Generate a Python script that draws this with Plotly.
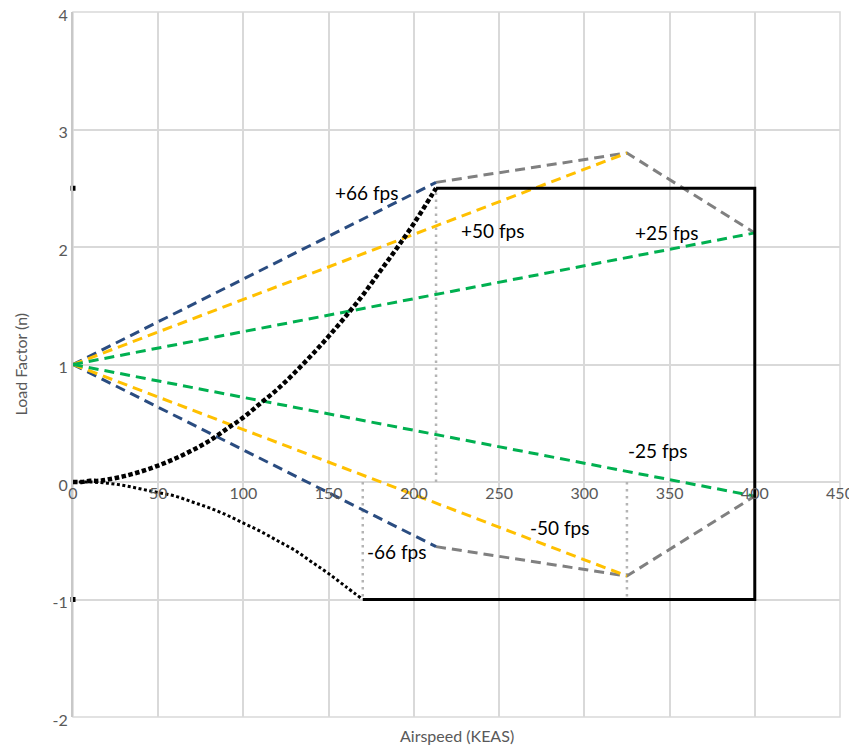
import plotly.graph_objects as go

# ---- data ----
stall_pos_v = [0, 5, 10, 15, 20, 30, 40, 50, 60, 70, 80, 90, 100, 110, 120, 130,
               140, 150, 160, 170, 180, 190, 200, 210, 213]
stall_pos_n = [0.0, 0.0, 0.01, 0.01, 0.02, 0.05, 0.09, 0.14, 0.20, 0.27, 0.35, 0.45,
               0.55, 0.67, 0.79, 0.93, 1.08, 1.24, 1.41, 1.59, 1.79, 1.99, 2.20, 2.43, 2.50]

stall_neg_v = [0, 10, 20, 30, 40, 50, 60, 70, 80, 90, 100, 110, 120, 130, 140, 150, 160, 170]
stall_neg_n = [0.0, 0.0, -0.01, -0.03, -0.06, -0.09, -0.12, -0.17, -0.22, -0.28, -0.35,
               -0.42, -0.50, -0.58, -0.68, -0.78, -0.89, -1.00]

envelope_v = [213, 400, 400, 170]
envelope_n = [2.5, 2.5, -1.0, -1.0]

single_v = [0, 0]
single_n = [2.5, -1.0]

gust66_pos_v = [0, 213]; gust66_pos_n = [1.0, 2.55]
gust66_neg_v = [0, 213]; gust66_neg_n = [1.0, -0.55]
gust50_pos_v = [0, 325]; gust50_pos_n = [1.0, 2.80]
gust50_neg_v = [0, 325]; gust50_neg_n = [1.0, -0.80]
gust25_pos_v = [0, 400]; gust25_pos_n = [1.0, 2.12]
gust25_neg_v = [0, 400]; gust25_neg_n = [1.0, -0.12]

gust_env_pos_v = [213, 325, 400]; gust_env_pos_n = [2.55, 2.80, 2.12]
gust_env_neg_v = [213, 325, 400]; gust_env_neg_n = [-0.55, -0.80, -0.12]

vline_a_v = [213, 213]; vline_a_n = [0.0, 2.5]
vline_b_v = [170, 170]; vline_b_n = [0.0, -1.0]
vline_c_v = [325, 325]; vline_c_n = [0.0, -1.0]

labels = ["+66 fps", "+50 fps", "+25 fps", "-25 fps", "-50 fps", "-66 fps"]
label_v = [172, 246, 348, 343, 286, 190]
label_n = [2.46, 2.14, 2.12, 0.27, -0.39, -0.59]

x_ticks = [0, 50, 100, 150, 200, 250, 300, 350, 400, 450]
x_tick_text = ["0", "50", "100", "150", "200", "250", "300", "350", "400", "450"]
y_ticks = [-2, -1, 0, 1, 2, 3, 4]
y_tick_text = ["-2", "-1", "0", "1", "2", "3", "4"]

NAVY = "#2A4C80"
YELLOW = "#FFC000"
GREEN = "#00B050"
GRAY = "#808080"
LGRAY = "#B4B4B4"
GRID = "#D9D9D9"
FONT = "Lato"
TICKCOL = "#595959"

fig = go.Figure()

def line(x, y, color, width, dash="solid", shape="linear"):
    fig.add_trace(go.Scatter(x=x, y=y, mode="lines",
                             line=dict(color=color, width=width, dash=dash, shape=shape),
                             hoverinfo="skip", showlegend=False))

# dotted vertical reference lines
line(vline_a_v, vline_a_n, LGRAY, 2.5, "2.5px,4.5px")
line(vline_b_v, vline_b_n, LGRAY, 2.5, "2.5px,4.5px")
line(vline_c_v, vline_c_n, LGRAY, 2.5, "2.5px,4.5px")

# gust lines
DASH = "10px,6px"
line(gust_env_pos_v, gust_env_pos_n, GRAY, 3, DASH)
line(gust_env_neg_v, gust_env_neg_n, GRAY, 3, DASH)
line(gust66_pos_v, gust66_pos_n, NAVY, 3, DASH)
line(gust66_neg_v, gust66_neg_n, NAVY, 3, DASH)
line(gust50_pos_v, gust50_pos_n, YELLOW, 3, DASH)
line(gust50_neg_v, gust50_neg_n, YELLOW, 3, DASH)
line(gust25_pos_v, gust25_pos_n, GREEN, 3, DASH)
line(gust25_neg_v, gust25_neg_n, GREEN, 3, DASH)

# flight envelope
line(envelope_v, envelope_n, "black", 3)

# stall curves (marker-like dotted strokes)
line(stall_pos_v, stall_pos_n, "black", 4.5, "4.5px,2.5px", "spline")
line(stall_neg_v, stall_neg_n, "black", 3, "3px,2.5px", "spline")

fig.add_trace(go.Scatter(x=single_v, y=single_n, mode="markers",
                         marker=dict(symbol="square", size=5, color="black"),
                         cliponaxis=False,
                         hoverinfo="skip", showlegend=False))

for t, xv, yv in zip(labels, label_v, label_n):
    fig.add_annotation(x=xv, y=yv, text=t, showarrow=False,
                       font=dict(family=FONT, size=19, color="black"),
                       xanchor="center", yanchor="middle")

# border of the plot area (grid lines at the range edges)
fig.add_shape(type="rect", xref="paper", yref="paper", x0=0, y0=0, x1=1, y1=1,
              line=dict(color=GRID, width=1.5), layer="below")

# page body has an 8px margin, so the figure is sized to fill the rest of the window
fig.update_layout(
    width=849, height=740,
    margin=dict(l=65, r=17, t=4, b=31, autoexpand=False),
    plot_bgcolor="white", paper_bgcolor="white",
    font=dict(family=FONT, size=16, color=TICKCOL),
    showlegend=False,
    xaxis=dict(range=[0, 450], tickvals=x_ticks, ticktext=x_tick_text, showgrid=True,
               gridcolor=GRID, gridwidth=1.5, zeroline=False,
               showline=False, anchor="free", position=1/3, automargin=False,
               ticklabeloverflow="allow",
               ticks="", tickfont=dict(family=FONT, size=16, color=TICKCOL),
               title=None),
    yaxis=dict(range=[-2, 4], tickvals=y_ticks, ticktext=y_tick_text, showgrid=True,
               gridcolor=GRID, gridwidth=1.5, zeroline=False, automargin=False,
               ticklabeloverflow="allow", ticklabelshift=3,
               showline=True, linecolor="#C8C8C8", linewidth=2,
               ticks="", tickfont=dict(family=FONT, size=16, color=TICKCOL),
               title=None),
)

fig.add_annotation(x=0.5, y=0, xref="paper", yref="paper", yshift=-18,
                   text="Airspeed (KEAS)", showarrow=False, yanchor="middle",
                   font=dict(family=FONT, size=16, color=TICKCOL))
fig.add_annotation(x=0, y=0.5, xref="paper", yref="paper", xshift=-53,
                   text="Load Factor (n)", showarrow=False, textangle=-90,
                   xanchor="center", yanchor="middle",
                   font=dict(family=FONT, size=16, color=TICKCOL))

fig.write_html("out.html")
